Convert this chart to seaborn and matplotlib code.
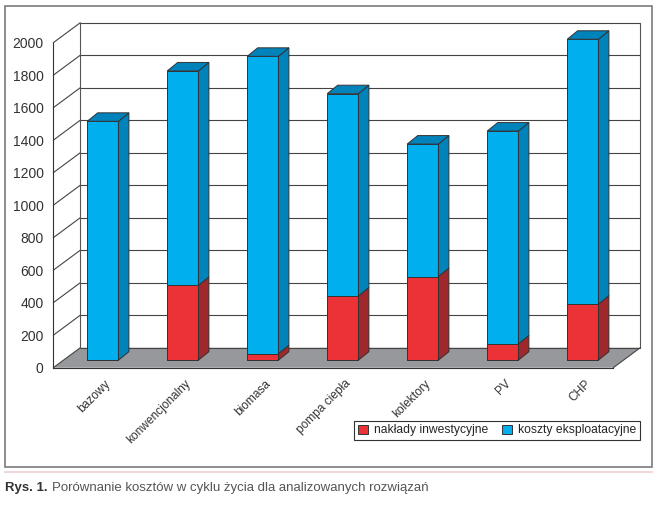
import numpy as np
import matplotlib
matplotlib.use("Agg")
import matplotlib.pyplot as plt
from matplotlib.patches import Polygon, Rectangle, Patch
from matplotlib.lines import Line2D
from matplotlib import font_manager
import seaborn as sns

categories = ["bazowy", "konwencjonalny", "biomasa", "pompa ciepła", "kolektory", "PV", "CHP"]
naklady = [0, 460, 40, 395, 515, 100, 345]          # nakłady inwestycyjne
koszty = [1470, 1320, 1830, 1245, 815, 1310, 1630]  # koszty eksploatacyjne
series_names = ["nakłady inwestycyjne", "koszty eksploatacyjne"]
y_ticks = list(range(0, 2001, 200))
caption_bold = "Rys. 1."
caption_rest = "Porównanie kosztów w cyklu życia dla analizowanych rozwiązań"

RED, RED_D = "#ec3237", "#a0282c"
BLUE, BLUE_D = "#00b0ee", "#0082bb"
FLOOR = "#97989b"
EDGE = "#333333"

sns.set_style("white")
avail = {f.name for f in font_manager.fontManager.ttflist}
narrow = "Liberation Sans Narrow" if "Liberation Sans Narrow" in avail else "Liberation Sans"
plt.rcParams["font.family"] = [narrow, "DejaVu Sans"]

W, H = 660, 507
fig = plt.figure(figsize=(W / 100, H / 100), dpi=100)
ax = fig.add_axes([53.3 / W, (H - 367.7) / H, 560 / W, 325 / H])
ax.patch.set_visible(False)

totals = [a + b for a, b in zip(naklady, koszty)]
sns.barplot(x=categories, y=totals, color=BLUE, saturation=1, width=0.39,
            edgecolor=EDGE, linewidth=0.7, ax=ax, zorder=3)
sns.barplot(x=categories, y=naklady, color=RED, saturation=1, width=0.39,
            edgecolor=EDGE, linewidth=0.7, ax=ax, zorder=3)
bars = list(ax.patches)
ax.set_xlim(-0.5, 6.5)
ax.set_ylim(0, 2000)

# pixel -> data units for the fake depth
sx, sy = 560 / 7, 325 / 2000
def px(dx, dy):
    return dx / sx, dy / sy

wx, wy = px(27, 20)      # back wall
bx, by = px(9.5, 7.5)    # bar front plane
dx, dy = px(10.5, 8.5)   # bar depth

# floor and walls
floor = Polygon([(-0.5, 0), (6.5, 0), (6.5 + wx, wy), (-0.5 + wx, wy)],
                closed=True, facecolor=FLOOR, edgecolor="none", zorder=0.5, clip_on=False)
ax.add_patch(floor)
for v in y_ticks:
    ax.plot([-0.5 + wx, 6.5 + wx], [v + wy] * 2, color="#444444", lw=0.8, zorder=1, clip_on=False)
    ax.plot([-0.5, -0.5 + wx], [v, v + wy], color="#444444", lw=0.8, zorder=1, clip_on=False)
for xe in [-0.5 + wx, 6.5 + wx]:
    ax.plot([xe, xe], [wy, 2000 + wy], color="#555555", lw=0.8, zorder=1, clip_on=False)
ax.plot([6.5, 6.5 + wx], [0, wy], color="#444444", lw=0.8, zorder=1, clip_on=False)

# move bars to their depth and add side / top faces
n = len(categories)
for p in bars:
    p.set_x(p.get_x() + bx)
    p.set_y(p.get_y() + by)
    p.set_clip_on(False)

def face(pts, color):
    ax.add_patch(Polygon(pts, closed=True, facecolor=color, edgecolor=EDGE,
                         lw=0.7, zorder=3, clip_on=False))

for i, bar in enumerate(bars[:n]):
    xl = bar.get_x()
    xr = xl + bar.get_width()
    y0 = by
    yr = naklady[i] + by
    yt = totals[i] + by
    if naklady[i] > 0:
        face([(xr, y0), (xr + dx, y0 + dy), (xr + dx, yr + dy), (xr, yr)], RED_D)
    face([(xr, yr), (xr + dx, yr + dy), (xr + dx, yt + dy), (xr, yt)], BLUE_D)
    face([(xl, yt), (xr, yt), (xr + dx, yt + dy), (xl + dx, yt + dy)], BLUE_D)

# front axes
sns.despine(ax=ax, top=True, right=True)
for s in ["left", "bottom"]:
    ax.spines[s].set_color(EDGE)
    ax.spines[s].set_linewidth(0.8)
ax.set_yticks(y_ticks)
ax.tick_params(axis="y", length=4, width=0.8, pad=3, labelsize=10, color=EDGE, labelcolor="#333333")
ax.set_xticks(np.arange(n) + 0.25, labels=categories)
ax.set_xticks(np.arange(-0.5, n, 1), minor=True)
ax.tick_params(axis="x", which="major", length=0, pad=7, labelsize=8.6, labelcolor="#333333")
ax.tick_params(axis="x", which="minor", length=4, width=0.8, color=EDGE)
for lab in ax.get_xticklabels():
    lab.set_rotation(45)
    lab.set_ha("right")
ax.set_xlabel("")
ax.set_ylabel("")

handles = [Patch(facecolor=RED, edgecolor=EDGE, lw=0.7), Patch(facecolor=BLUE, edgecolor=EDGE, lw=0.7)]
leg = fig.legend(handles, series_names, loc="lower right", bbox_to_anchor=(640 / W, (H - 440) / H),
                 ncol=2, frameon=True, fancybox=False, edgecolor=EDGE, framealpha=1, fontsize=8.7,
                 handlelength=0.8, handleheight=0.8, handletextpad=0.5, columnspacing=1.2,
                 borderpad=0.3, borderaxespad=0)
leg.get_frame().set_linewidth(0.8)

# outer frame and caption
fig.add_artist(Rectangle((5 / W, (H - 466.7) / H), 647 / W, 460.7 / H, transform=fig.transFigure,
                         fill=False, edgecolor="#7a7a7a", lw=1.2))
fig.add_artist(Line2D([5 / W, 652 / W], [(H - 472) / H] * 2, transform=fig.transFigure,
                      color="#f0d6d6", lw=1.5))
t1 = fig.text(5 / W, (H - 491) / H, caption_bold, fontsize=9.5, fontweight="bold", color="#333333")
fig.canvas.draw()
bb = t1.get_window_extent(fig.canvas.get_renderer())
fig.text((bb.x1 + 4) / W, (H - 491) / H, caption_rest, fontsize=9.5, color="#555555")

fig.savefig("out.png", dpi=100)
